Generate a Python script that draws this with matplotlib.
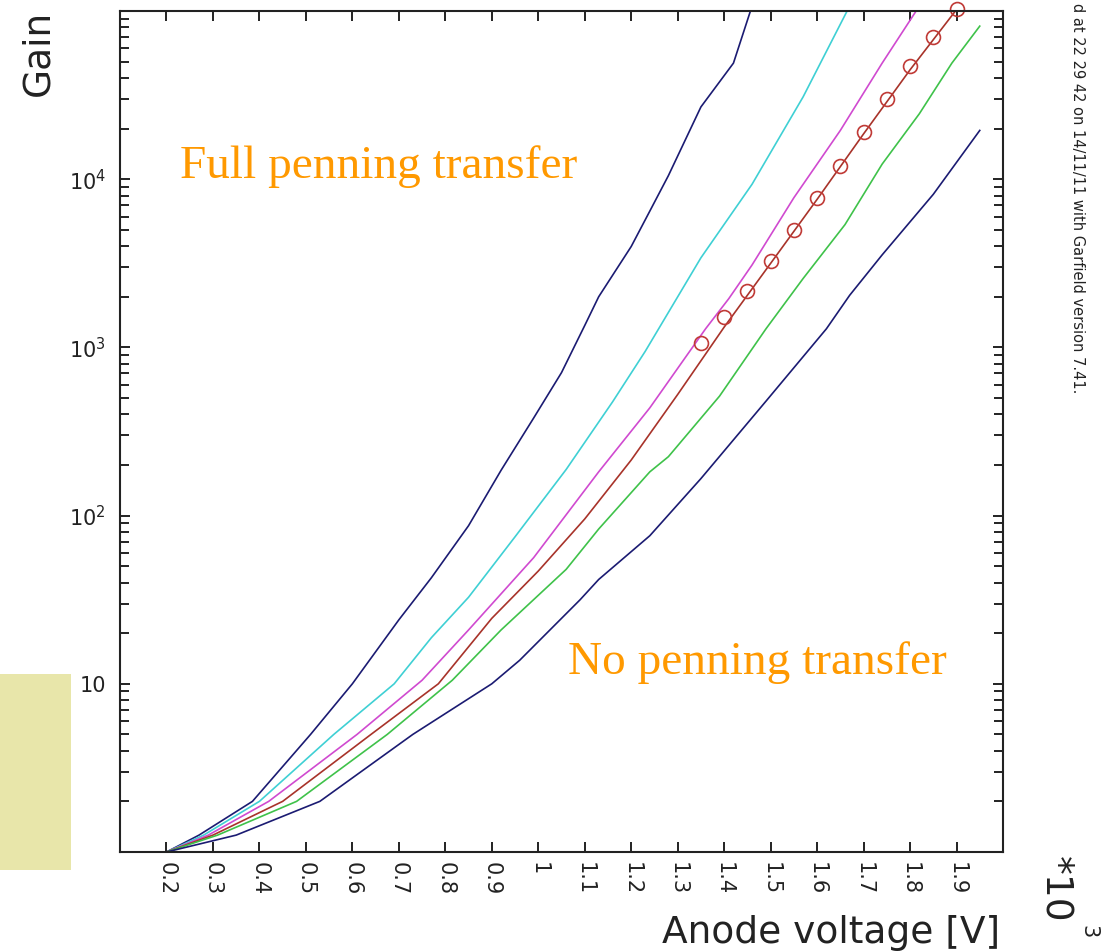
# Gain vs anode voltage, Garfield style plot

import matplotlib
matplotlib.use('Agg')
import matplotlib.pyplot as plt
from matplotlib.ticker import LogLocator, NullFormatter
from matplotlib.patches import Rectangle

# anode voltage in kV (axis shows *10^3 V)
v_navy_top = [0.10, 0.20, 0.27, 0.385, 0.51, 0.60, 0.70, 0.77, 0.85, 0.92, 0.99,
              1.05, 1.10, 1.13, 1.20, 1.24, 1.28, 1.35, 1.42, 1.46]
g_navy_top = [1.0, 1.0, 1.26, 2.0, 5.0, 10.0, 24.0, 42.7, 87.1, 186, 380,
              708, 1350, 2000, 3980, 6460, 10500, 26900, 49000, 107000]

v_cyan = [0.10, 0.20, 0.28, 0.40, 0.56, 0.69, 0.77, 0.85, 0.95, 1.06, 1.16,
          1.23, 1.35, 1.46, 1.57, 1.67]
g_cyan = [1.0, 1.0, 1.26, 2.0, 5.0, 10.0, 18.8, 32.7, 74.8, 188, 475,
          946, 3410, 9330, 30900, 107000]

v_magenta = [0.10, 0.20, 0.29, 0.42, 0.61, 0.75, 0.85, 0.99, 1.13, 1.24, 1.36,
             1.41, 1.46, 1.55, 1.65, 1.74, 1.82]
g_magenta = [1.0, 1.0, 1.26, 2.0, 5.0, 10.5, 20.9, 56.2, 182, 437, 1290,
             1950, 3090, 7760, 19500, 49000, 107000]

v_red = [0.10, 0.20, 0.30, 0.45, 0.64, 0.785, 0.90, 1.00, 1.10, 1.20, 1.30,
         1.40, 1.50, 1.60, 1.70, 1.80, 1.90]
g_red = [1.0, 1.0, 1.26, 2.0, 5.0, 10.0, 24.5, 46.8, 95.5, 214, 525,
         1320, 3160, 7590, 18600, 44700, 102000]

v_green = [0.10, 0.20, 0.31, 0.48, 0.675, 0.815, 0.92, 1.06, 1.13, 1.24, 1.28,
           1.39, 1.49, 1.57, 1.66, 1.74, 1.82, 1.89, 1.95]
g_green = [1.0, 1.0, 1.26, 2.0, 5.0, 10.5, 20.9, 47.9, 83.2, 182, 224,
           513, 1290, 2570, 5370, 12300, 24500, 49000, 81300]

v_navy_bot = [0.10, 0.20, 0.35, 0.53, 0.73, 0.90, 0.96, 1.09, 1.13, 1.24, 1.35,
              1.49, 1.62, 1.67, 1.74, 1.85, 1.95]
g_navy_bot = [1.0, 1.0, 1.26, 2.0, 5.0, 10.0, 13.8, 31.6, 41.7, 75.9, 166,
              479, 1290, 2040, 3550, 8130, 19500]

# measured points
v_meas = [1.35, 1.40, 1.45, 1.50, 1.55, 1.60, 1.65, 1.70, 1.75, 1.80, 1.85, 1.90]
g_meas = [1060, 1510, 2160, 3270, 5020, 7690, 11960, 19100, 30100, 46900, 69900, 102800]

x_ticks = [0.2, 0.3, 0.4, 0.5, 0.6, 0.7, 0.8, 0.9, 1.0, 1.1, 1.2, 1.3, 1.4, 1.5, 1.6, 1.7, 1.8, 1.9]
x_ticklabels = ['0.2', '0.3', '0.4', '0.5', '0.6', '0.7', '0.8', '0.9', '1',
                '1.1', '1.2', '1.3', '1.4', '1.5', '1.6', '1.7', '1.8', '1.9']
y_ticks = [10, 100, 1000, 10000]
y_ticklabels = ['10', '$10^2$', '$10^3$', '$10^4$']

W, H = 1108, 951
ink = '#222222'
navy = '#1b1b72'

fig = plt.figure(figsize=(W / 100, H / 100), dpi=100)
ax = fig.add_axes([120 / W, 1 - 852 / H, 883 / W, 841 / H])

ax.plot(v_navy_top, g_navy_top, color=navy, lw=1.2)
ax.plot(v_cyan, g_cyan, color='#3fd0d4', lw=1.2)
ax.plot(v_magenta, g_magenta, color='#d04ad0', lw=1.2)
ax.plot(v_red, g_red, color='#a8332a', lw=1.2)
ax.plot(v_green, g_green, color='#3fc24a', lw=1.2)
ax.plot(v_navy_bot, g_navy_bot, color=navy, lw=1.2)
ax.plot(v_meas, g_meas, 'o', mfc='none', mec='#c03a36', ms=10, mew=1.2, clip_on=False)

ax.set_yscale('log')
ax.set_xlim(0.1, 2.0)
ax.set_ylim(1, 1e5)

ax.set_xticks(x_ticks)
ax.set_xticklabels(x_ticklabels, rotation=270)
ax.set_yticks(y_ticks)
ax.set_yticklabels(y_ticklabels)
ax.yaxis.set_minor_locator(LogLocator(base=10, subs=range(2, 10)))
ax.yaxis.set_minor_formatter(NullFormatter())

ax.tick_params(which='both', direction='in', top=True, right=True,
               width=1.4, color=ink, labelcolor=ink)
ax.tick_params(which='major', length=7, labelsize=15)
ax.tick_params(which='minor', length=6.5)
ax.tick_params(axis='x', pad=7)
ax.tick_params(axis='y', pad=10)
for s in ax.spines.values():
    s.set_linewidth(1.5)
    s.set_color(ink)

# axis titles and annotations
fig.text(1000 / W, 1 - 943 / H, 'Anode voltage [V]', size=27, color=ink,
         ha='right', va='baseline')
fig.text(38 / W, 1 - 10 / H, 'Gain', size=27, color=ink, rotation=90,
         ha='center', va='top')
fig.text(1055 / W, 1 - 856 / H, '*10', size=27, color=ink, rotation=270,
         ha='center', va='top')
fig.text(1088 / W, 1 - 932 / H, '3', size=15, color=ink, rotation=270,
         ha='center', va='center')
# only this part of the stamp is visible in the original
fig.text(1078 / W, 1 - 393 / H, 'd at 22 29 42 on 14/11/11 with Garfield version 7.41.',
         size=10.5, color=ink, rotation=270, ha='center', va='bottom')

orange = '#ff9900'
fig.text(180 / W, 1 - 178 / H, 'Full penning transfer', family='Liberation Serif',
         size=34, color=orange, va='baseline')
fig.text(568 / W, 1 - 674 / H, 'No penning transfer', family='Liberation Serif',
         size=34, color=orange, va='baseline')

fig.add_artist(Rectangle((0, 1 - 870 / H), 71 / W, 196 / H, transform=fig.transFigure,
                         facecolor='#e8e6aa', edgecolor='none', zorder=0))

fig.savefig('out.png', dpi=100)
